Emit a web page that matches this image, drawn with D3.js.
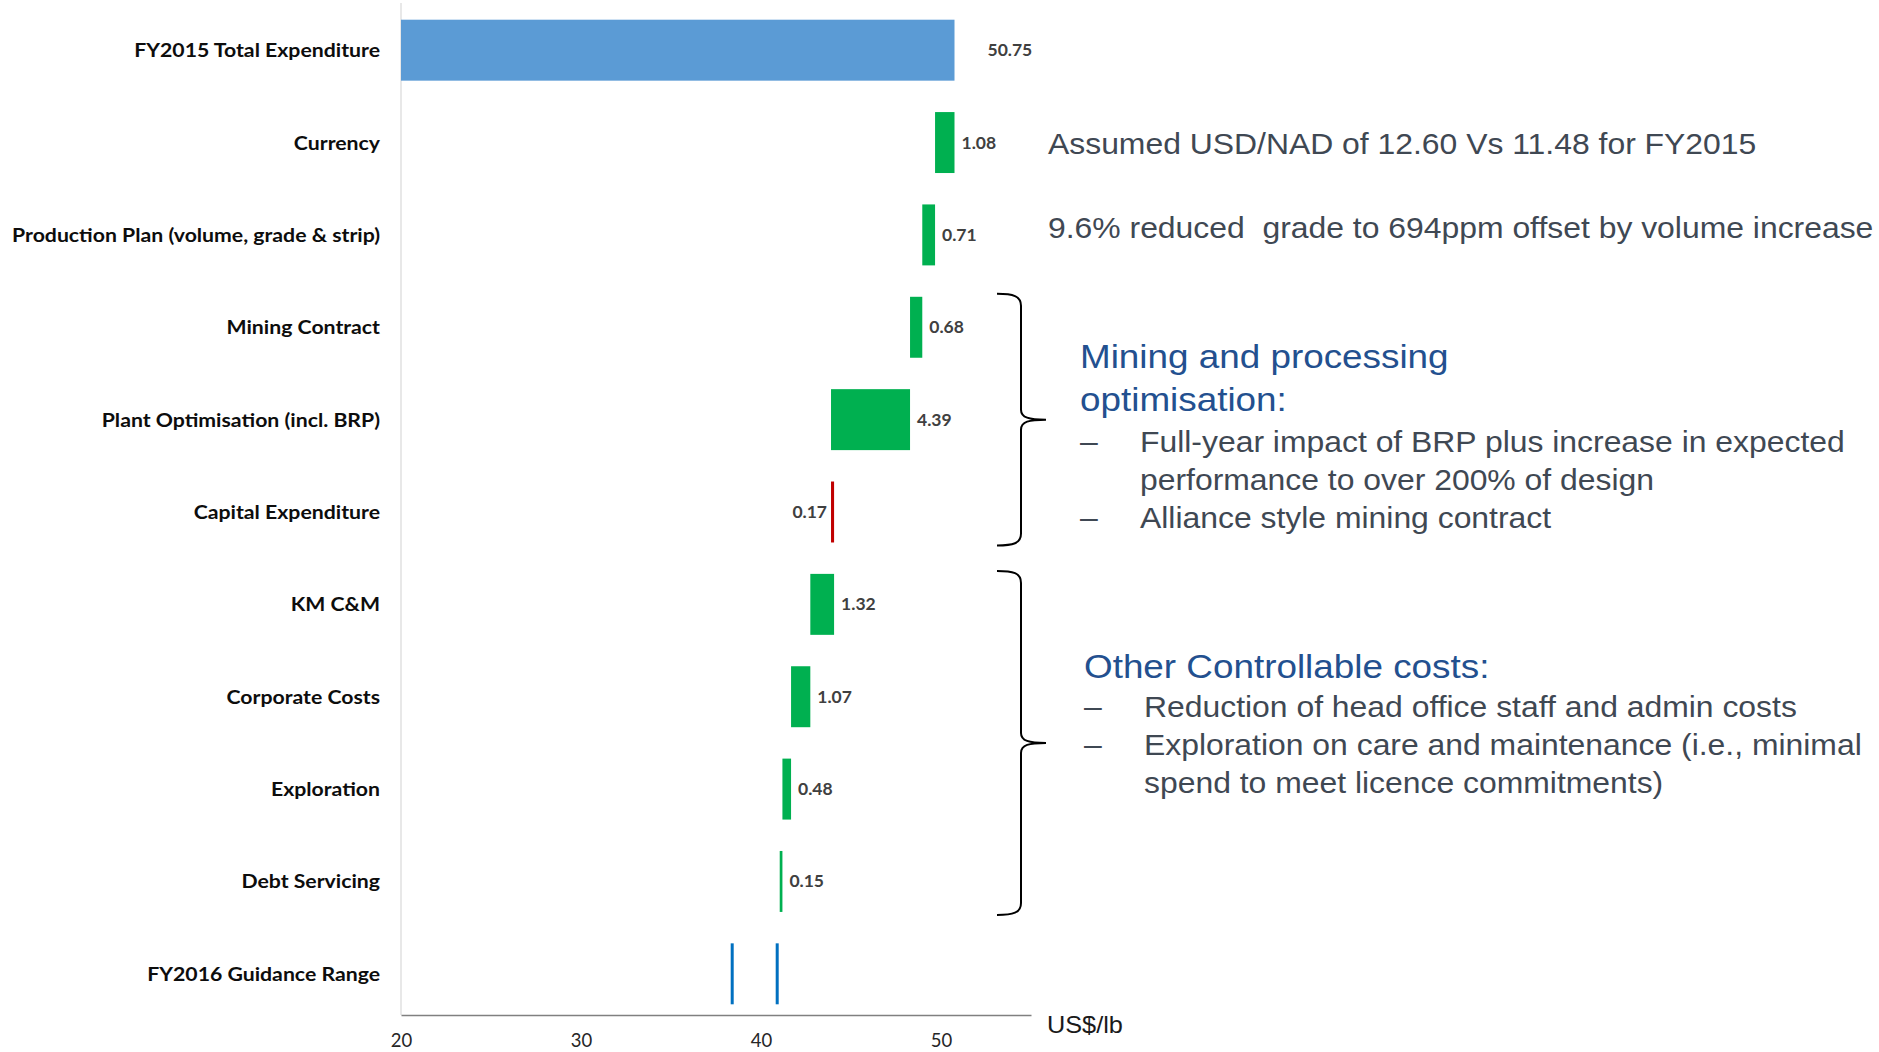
<!DOCTYPE html>
<html>
<head>
<meta charset="utf-8">
<script src="https://cdn.jsdelivr.net/npm/d3@7"></script>
<style>
  body { margin: 0; background: #fff; }
  svg { display: block; }
</style>
</head>
<body>
<svg id="chart"></svg>
<script>
// ---- data ----
const categories = [
  "FY2015 Total Expenditure",
  "Currency",
  "Production Plan (volume, grade & strip)",
  "Mining Contract",
  "Plant Optimisation (incl. BRP)",
  "Capital Expenditure",
  "KM C&M",
  "Corporate Costs",
  "Exploration",
  "Debt Servicing",
  "FY2016 Guidance Range"
];
// first value is the opening total, the rest are signed changes
const changes = [50.75, -1.08, -0.71, -0.68, -4.39, 0.17, -1.32, -1.07, -0.48, -0.15];
const valueLabels = ["50.75", "1.08", "0.71", "0.68", "4.39", "0.17", "1.32", "1.07", "0.48", "0.15"];
const guidanceRange = [38.4, 40.9];
const xTicks = [20, 30, 40, 50];
const xDomain = [20, 55];
const unitLabel = "US$/lb";

const currencyNote = "Assumed USD/NAD of 12.60 Vs 11.48 for FY2015";
const productionNote = "9.6% reduced  grade to 694ppm offset by volume increase";
const miningTitle = ["Mining and processing", "optimisation:"];
const miningBullets = [
  ["Full-year impact of BRP plus increase in expected", "performance to over 200% of design"],
  ["Alliance style mining contract"]
];
const otherTitle = ["Other Controllable costs:"];
const otherBullets = [
  ["Reduction of head office staff and admin costs"],
  ["Exploration on care and maintenance (i.e., minimal", "spend to meet licence commitments)"]
];
const braceGroups = [
  ["Mining Contract", "Capital Expenditure"],
  ["KM C&M", "Debt Servicing"]
];

// ---- setup ----
const W = 1879, H = 1052;
const svg = d3.select("#chart").attr("width", W).attr("height", H);
svg.append("rect").attr("width", W).attr("height", H).attr("fill", "#fff");

const labelFont = "Lato, 'Open Sans', sans-serif";
const noteFont = "'Liberation Sans', Arial, sans-serif";

const x = d3.scaleLinear().domain(xDomain).range([401, 1031]);
const y = d3.scaleBand().domain(categories).range([4, 1020])
  .paddingInner(0.34).paddingOuter(0.17);
const axisY = 1015;

// build waterfall rows
let running = 0;
const rows = changes.map((c, i) => {
  let start, end, kind;
  if (i === 0) { start = xDomain[0]; end = c; kind = "total"; running = c; }
  else { start = running; end = running + c; running = end; kind = c < 0 ? "down" : "up"; }
  return { cat: categories[i], start, end, kind, label: valueLabels[i] };
});
const colors = { total: "#5b9bd5", down: "#00b050", up: "#c00000" };

// y axis line (light)
svg.append("line")
  .attr("x1", x(xDomain[0])).attr("x2", x(xDomain[0]))
  .attr("y1", 3).attr("y2", axisY)
  .attr("stroke", "#d9d9d9").attr("stroke-width", 1.2);

// category labels (stretched a little to match the slide's wider rendering)
svg.append("g").selectAll("text")
  .data(categories).enter().append("text")
  .attr("transform", d => `translate(380,${y(d) + y.bandwidth() / 2 + 7}) scale(1.09,1)`)
  .attr("text-anchor", "end")
  .attr("font-family", labelFont)
  .attr("font-weight", "bold")
  .attr("font-size", 19.5)
  .attr("fill", "#0d0d0d")
  .text(d => d);

// bars
svg.append("g").selectAll("rect")
  .data(rows).enter().append("rect")
  .attr("x", d => x(Math.min(d.start, d.end)))
  .attr("y", d => y(d.cat))
  .attr("width", d => Math.max(2, Math.abs(x(d.end) - x(d.start))))
  .attr("height", y.bandwidth())
  .attr("fill", d => colors[d.kind]);

// value labels
svg.append("g").selectAll("text")
  .data(rows).enter().append("text")
  .attr("x", d => d.kind === "total" ? x(d.end) + 33
                : d.kind === "down" ? x(d.start) + 7 : x(d.start) - 4)
  .attr("y", d => y(d.cat) + y.bandwidth() / 2 + 6)
  .attr("text-anchor", d => d.kind === "up" ? "end" : "start")
  .attr("font-family", labelFont)
  .attr("font-weight", "bold")
  .attr("font-size", 17.5)
  .attr("fill", "#404040")
  .text(d => d.label);

// guidance range marks
svg.append("g").selectAll("rect")
  .data(guidanceRange).enter().append("rect")
  .attr("x", d => x(d) - 1.5)
  .attr("y", y("FY2016 Guidance Range"))
  .attr("width", 3)
  .attr("height", y.bandwidth())
  .attr("fill", "#0070c0");

// x axis
const xAxis = d3.axisBottom(x).tickValues(xTicks).tickSize(0).tickPadding(0);
const gx = svg.append("g").attr("transform", `translate(0,${axisY})`).call(xAxis);
gx.select(".domain").attr("stroke", "#808080").attr("stroke-width", 1.5);
gx.selectAll(".tick text")
  .attr("y", 32).attr("dy", 0)
  .attr("font-family", labelFont)
  .attr("font-size", 18.5)
  .attr("fill", "#262626");

// braces
const bw = y.bandwidth();
braceGroups.forEach(([a, b]) => {
  const top = y(a) - 3, bot = y(b) + bw + 3, mid = (top + bot) / 2;
  const xl = 997, xv = 1021, xt = 1046;
  const p = d3.path();
  p.moveTo(xl, top);
  p.bezierCurveTo(xl + 16, top, xv, top + 2, xv, top + 12);
  p.lineTo(xv, mid - 10);
  p.bezierCurveTo(xv, mid - 2, xv + 8, mid, xt, mid);
  p.bezierCurveTo(xv + 8, mid, xv, mid + 2, xv, mid + 10);
  p.lineTo(xv, bot - 12);
  p.bezierCurveTo(xv, bot - 2, xl + 16, bot, xl, bot);
  svg.append("path").attr("d", p.toString())
    .attr("fill", "none").attr("stroke", "#000").attr("stroke-width", 2);
});

// annotations (slightly widened Arial, like the original slide)
const sx = 1.1;
const notes = svg.append("g").attr("transform", `scale(${sx},1)`)
  .attr("font-family", noteFont);

function note(txt, px, py, size, color) {
  notes.append("text")
    .attr("x", px / sx).attr("y", py)
    .attr("font-size", size).attr("fill", color)
    .style("white-space", "pre")
    .text(txt);
}
const grey = "#3f4853", blue = "#23508f";

note(unitLabel, 1047, 1033, 23, "#1a1a1a");
note(currencyNote, 1048, 154, 29, grey);
note(productionNote, 1048, 238, 29, grey);

function block(title, bullets, x0, titleY, bulletY) {
  title.forEach((t, i) => note(t, x0, titleY + i * 43, 33.5, blue));
  let k = 0;
  bullets.forEach(lines => {
    note("\u2013", x0, bulletY + k * 38, 29, grey);
    lines.forEach(l => { note(l, x0 + 60, bulletY + k * 38, 29, grey); k++; });
  });
}
block(miningTitle, miningBullets, 1080, 368, 452);
block(otherTitle, otherBullets, 1084, 678, 717);
</script>
</body>
</html>
